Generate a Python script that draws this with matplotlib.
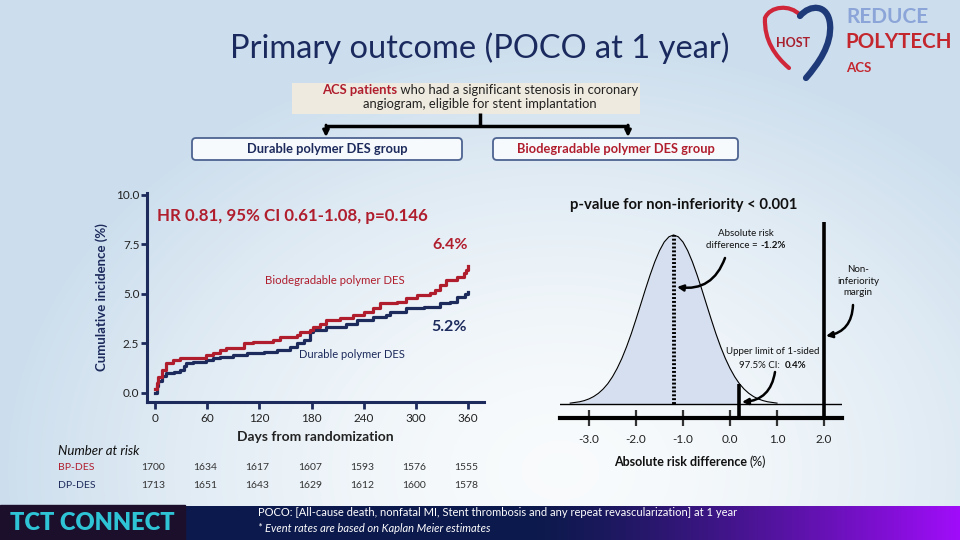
import numpy as np
import matplotlib
matplotlib.use("Agg")
import matplotlib.pyplot as plt
from matplotlib.patches import FancyBboxPatch, FancyArrowPatch, Rectangle, PathPatch
from matplotlib.path import Path
from matplotlib.transforms import blended_transform_factory

plt.rcParams['font.family'] = ['Lato', 'DejaVu Sans']

RED = '#B01E2E'
NAVY = '#1C2A5C'

# Kaplan-Meier curves (days, cumulative incidence %)
bp_days = [0, 2, 4, 8, 13, 21, 29, 59, 67, 75, 82, 102, 113, 136, 144, 163, 167, 178, 182, 190,
           197, 213, 228, 240, 251, 259, 278, 289, 301, 316, 322, 328, 335, 347, 355, 358, 360]
bp_vals = [0.2, 0.5, 0.82, 1.16, 1.5, 1.67, 1.75, 1.92, 2.04, 2.17, 2.25, 2.5, 2.6, 2.68, 2.85, 2.93, 3.1, 3.18, 3.35, 3.5,
           3.69, 3.77, 3.94, 4.1, 4.28, 4.53, 4.6, 4.78, 4.95, 5.03, 5.2, 5.45, 5.7, 5.87, 6.04, 6.2, 6.4]
dp_days = [0, 2, 4, 8, 13, 22, 29, 33, 36, 44, 59, 67, 75, 90, 106, 125, 140, 155, 163, 171, 178,
           182, 197, 220, 232, 251, 266, 270, 289, 309, 328, 339, 347, 356, 360]
dp_vals = [0.0, 0.35, 0.6, 0.85, 0.99, 1.08, 1.16, 1.35, 1.5, 1.58, 1.67, 1.75, 1.83, 1.92, 2.0, 2.09, 2.17, 2.34, 2.5, 2.68, 3.1,
           3.18, 3.35, 3.5, 3.7, 3.86, 3.94, 4.1, 4.28, 4.36, 4.53, 4.6, 4.87, 5.0, 5.12]

risk_days = [0, 60, 120, 180, 240, 300, 360]
bp_at_risk = [1700, 1634, 1617, 1607, 1593, 1576, 1555]
dp_at_risk = [1713, 1651, 1643, 1629, 1612, 1600, 1578]
km_yticks = [0.0, 2.5, 5.0, 7.5, 10.0]

# distribution of absolute risk difference (relative height)
rd_x = [-3.4, -3.3, -3.2, -3.1, -3.0, -2.9, -2.8, -2.7, -2.6, -2.5, -2.4, -2.3, -2.2, -2.1, -2.0,
        -1.9, -1.8, -1.7, -1.6, -1.5, -1.4, -1.3, -1.2, -1.1, -1.0, -0.9, -0.8, -0.7, -0.6, -0.5,
        -0.4, -0.3, -0.2, -0.1, 0.0, 0.1, 0.2, 0.3, 0.4, 0.5, 0.6, 0.7, 0.8, 0.9, 1.0]
rd_h = [0.005, 0.009, 0.013, 0.020, 0.030, 0.044, 0.063, 0.088, 0.120, 0.161, 0.211, 0.270, 0.339, 0.416, 0.501,
        0.589, 0.678, 0.763, 0.841, 0.907, 0.958, 0.989, 1.000, 0.989, 0.958, 0.907, 0.841, 0.763, 0.678, 0.589,
        0.501, 0.416, 0.339, 0.270, 0.211, 0.161, 0.120, 0.088, 0.063, 0.044, 0.030, 0.020, 0.013, 0.009, 0.005]
rd_ticks = [-3.0, -2.0, -1.0, 0.0, 1.0, 2.0]
rd_point = -1.2
rd_upper = 0.2
ni_margin = 2.0

fig = plt.figure(figsize=(9.6, 5.4), dpi=100)

# background layer in pixel coordinates
bg = fig.add_axes([0, 0, 1, 1], zorder=0)
bg.set_xlim(0, 960)
bg.set_ylim(540, 0)
bg.axis('off')

yy, xx = np.mgrid[0:540, 0:960]
d = np.sqrt(((xx - 560) / 560.0) ** 2 + ((yy - 470) / 430.0) ** 2)
t = np.clip(d, 0, 1) ** 1.6
c0 = np.array([0.975, 0.985, 0.99])
c1 = np.array([0.80, 0.87, 0.93])
img = c0 + (c1 - c0) * t[..., None]
bg.imshow(img, extent=[0, 960, 540, 0], aspect='auto', zorder=0)

# bottom banner
gx = np.linspace(0, 1, 400)
ramp = np.clip((gx - 0.45) / 0.55, 0, 1) ** 1.3
navy_b = np.array([0.05, 0.10, 0.30])
purp_b = np.array([0.63, 0.05, 0.98])
band = navy_b + (purp_b - navy_b) * ramp[:, None]
bg.imshow(band[None, :, :], extent=[185, 960, 540, 506], aspect='auto', zorder=1)
bg.add_patch(Rectangle((0, 505), 185, 35, color='#1B0F2C', zorder=2))

# foreground layer (text, boxes, arrows) in pixel coordinates
fg = fig.add_axes([0, 0, 1, 1], zorder=5)
fg.set_xlim(0, 960)
fg.set_ylim(540, 0)
fg.axis('off')
fg.patch.set_alpha(0)

fg.text(10, 523, 'TCT CONNECT', color='#2EC4D6', fontsize=17, fontweight='heavy', va='center', ha='left')
fg.text(258, 513, 'POCO: [All-cause death, nonfatal MI, Stent thrombosis and any repeat revascularization] at 1 year',
        color='white', fontsize=8, va='center', ha='left')
fg.text(258, 528, '* Event rates are based on Kaplan Meier estimates', color='white', fontsize=8,
        style='italic', va='center', ha='left')

renderer = fig.canvas.get_renderer()


def rich_text(x, y, parts, ha='center', **common):
    objs = []
    widths = []
    for s, kw in parts:
        o = fg.text(0, y, s, va='center', ha='left', **common, **kw)
        objs.append(o)
        widths.append(o.get_window_extent(renderer).width)
    total = sum(widths)
    start = x - total / 2 if ha == 'center' else x
    for o, w in zip(objs, widths):
        o.set_x(start)
        start += w


# title + logo
fg.text(480, 48, 'Primary outcome (POCO at 1 year)', fontsize=23.5, color='#1A2A5E', ha='center', va='center')
red_path = Path([(800, 15), (790, 4), (770, 6), (765, 18), (764, 40), (775, 56), (789, 68)],
                [Path.MOVETO, Path.CURVE4, Path.CURVE4, Path.CURVE4, Path.CURVE4, Path.CURVE4, Path.CURVE4])
blue_path = Path([(800, 16), (810, 4), (828, 4), (830, 24), (832, 45), (818, 64), (806, 78)],
                 [Path.MOVETO, Path.CURVE4, Path.CURVE4, Path.CURVE4, Path.CURVE4, Path.CURVE4, Path.CURVE4])
fg.add_patch(PathPatch(red_path, fill=False, edgecolor='#D0263A', lw=3, capstyle='round'))
fg.add_patch(PathPatch(blue_path, fill=False, edgecolor='#1E3A78', lw=4.5, capstyle='round'))
fg.text(793, 43, 'HOST', fontsize=9, fontweight='bold', color='#A81F2E', ha='center', va='center')
fg.text(846, 17, 'REDUCE', fontsize=15, fontweight='bold', color='#8CA5D8', ha='left', va='center')
fg.text(845, 42, 'POLYTECH', fontsize=14.8, fontweight='bold', color='#C4262E', ha='left', va='center')
fg.text(846, 68, 'ACS', fontsize=9.5, fontweight='bold', color='#C4262E', ha='left', va='center')

# study flow boxes
fg.add_patch(Rectangle((292, 83), 348, 31, facecolor='#EEEADF', edgecolor='none'))
rich_text(480, 90, [('ACS patients', dict(color=RED, fontweight='bold')),
                    (' who had a significant stenosis in coronary', dict(color='#222222'))], fontsize=9.4)
fg.text(480, 104, 'angiogram, eligible for stent implantation', fontsize=9.4, color='#222222', ha='center', va='center')
fg.plot([480, 480], [113, 126], color='black', lw=2.5, solid_capstyle='butt')
fg.plot([325, 629], [126, 126], color='black', lw=2.5, solid_capstyle='butt')
for ax_x in (326, 628):
    fg.add_patch(FancyArrowPatch((ax_x, 125), (ax_x, 137), arrowstyle='-|>', mutation_scale=9,
                                 color='black', lw=2, shrinkA=0, shrinkB=0))
for x0, x1, label, col in [(192, 462, 'Durable polymer DES group', NAVY),
                           (493, 738, 'Biodegradable polymer DES group', RED)]:
    fg.add_patch(FancyBboxPatch((x0, 138), x1 - x0, 22, boxstyle='round,pad=0,rounding_size=4',
                                facecolor='#F7FAFC', edgecolor='#4D6390', lw=1.3))
    fg.text((x0 + x1) / 2, 149, label, fontsize=9.3, fontweight='bold', color=col, ha='center', va='center')

# Kaplan-Meier panel
ax = fig.add_axes([147 / 960, (540 - 402) / 540, 337 / 960, (402 - 193) / 540], zorder=2)
ax.patch.set_alpha(0)
ax.plot(dp_days, dp_vals, drawstyle='steps-post', color=NAVY, lw=2.3)
ax.plot(bp_days, bp_vals, drawstyle='steps-post', color=RED, lw=2.3)
ax.set_xlim(-9.2, 378.4)
ax.set_ylim(-0.455, 10.1)
ax.set_xticks(risk_days)
ax.set_yticks(km_yticks)
ax.set_yticklabels([f'{v:.1f}' for v in km_yticks])
for s in ('top', 'right'):
    ax.spines[s].set_visible(False)
for s in ('left', 'bottom'):
    ax.spines[s].set_color(NAVY)
    ax.spines[s].set_linewidth(2.2)
ax.tick_params(axis='both', colors=NAVY, width=2, length=5, labelsize=8.5, labelcolor='#222222')
ax.tick_params(axis='x', pad=3)
ax.tick_params(axis='y', pad=1.5, length=4)
ax.set_xlabel('Days from randomization', fontsize=10, fontweight='bold', color='#222222', labelpad=5)
ax.set_ylabel('Cumulative incidence (%)', fontsize=9.5, fontweight='bold', color=NAVY, labelpad=6)

fg.text(157, 216, 'HR 0.81, 95% CI 0.61-1.08, p=0.146', fontsize=12.2, fontweight='bold', color=RED,
        ha='left', va='center')
fg.text(468, 245, '6.4%', fontsize=11.5, fontweight='bold', color=RED, ha='right', va='center')
fg.text(467, 327, '5.2%', fontsize=11.5, fontweight='bold', color=NAVY, ha='right', va='center')
fg.text(405, 280, 'Biodegradable polymer DES', fontsize=8.2, color=RED, ha='right', va='center')
fg.text(405, 354, 'Durable polymer DES', fontsize=8, color=NAVY, ha='right', va='center')

# number at risk table
fg.text(58, 451, 'Number at risk', fontsize=9.5, style='italic', color='#111111', ha='left', va='center')
fg.text(58, 467, 'BP-DES', fontsize=7.5, color=RED, ha='left', va='center')
fg.text(58, 486, 'DP-DES', fontsize=7.5, color=NAVY, ha='left', va='center')
tr = blended_transform_factory(ax.transData, fg.transData)
for dday, nb, nd in zip(risk_days, bp_at_risk, dp_at_risk):
    ax.text(dday - 2, 467, str(nb), transform=tr, fontsize=7.5, color='#333333', ha='center', va='center')
    ax.text(dday - 2, 486, str(nd), transform=tr, fontsize=7.5, color='#333333', ha='center', va='center')

# non-inferiority panel
ax2 = fig.add_axes([560 / 960, (540 - 418) / 540, 282 / 960, (418 - 215) / 540], zorder=2)
ax2.patch.set_alpha(0)
rx = np.array(rd_x)
rh = np.array(rd_h)
ax2.fill_between(rx, 0, rh, where=rx <= rd_upper + 1e-9, color='#D6DFEF', lw=0)
ax2.plot(rx, rh, color='black', lw=0.8)
ax2.axhline(0, color='black', lw=1)
ax2.vlines(rd_point, 0, 1.0, colors='black', lw=2.8, linestyles=(0, (0.5, 0.5)))
ax2.vlines(rd_upper, -0.083, 0.12, colors='black', lw=2.6)
ax2.vlines(ni_margin, -0.083, 1.077, colors='black', lw=2.6)
ax2.set_xlim(-3.617, 2.383)
ax2.set_ylim(-0.083, 1.118)
ax2.set_xticks(rd_ticks)
ax2.set_xticklabels([f'{v:.1f}' for v in rd_ticks])
ax2.set_yticks([])
for s in ('top', 'right', 'left'):
    ax2.spines[s].set_visible(False)
ax2.spines['bottom'].set_linewidth(3)
ax2.tick_params(axis='x', direction='inout', length=11, width=1.6, color='#333333', labelsize=8.5,
                labelcolor='#222222', pad=6)

fg.text(570, 205, 'p-value for non-inferiority < 0.001', fontsize=10.7, fontweight='bold', color='#111111',
        ha='left', va='center')
fg.text(746, 233, 'Absolute risk', fontsize=7, color='#111111', ha='center', va='center')
rich_text(746, 246, [('difference = ', dict(color='#111111')), ('-1.2%', dict(color='#111111', fontweight='bold'))],
          fontsize=7)
fg.text(858, 281, 'Non-\ninferiority\nmargin', fontsize=7, color='#111111', ha='center', va='center',
        linespacing=1.3)
fg.text(773, 352, 'Upper limit of 1-sided', fontsize=7, color='#111111', ha='center', va='center')
rich_text(773, 365, [('97.5% CI:  ', dict(color='#111111')), ('0.4%', dict(color='#111111', fontweight='bold'))],
          fontsize=7)
for p0, p1 in [((725, 258), (677, 287)), ((853, 305), (826, 336)), ((775, 372), (742, 402))]:
    fg.add_patch(FancyArrowPatch(p0, p1, connectionstyle='arc3,rad=-0.4', arrowstyle='-|>',
                                 mutation_scale=9, color='black', lw=1.8, shrinkA=0, shrinkB=0))
rich_text(690, 462, [('Absolute risk difference ', dict(fontweight='bold')), ('(%)', dict())],
          fontsize=9, color='#111111')

fig.savefig('out.png', dpi=100)
